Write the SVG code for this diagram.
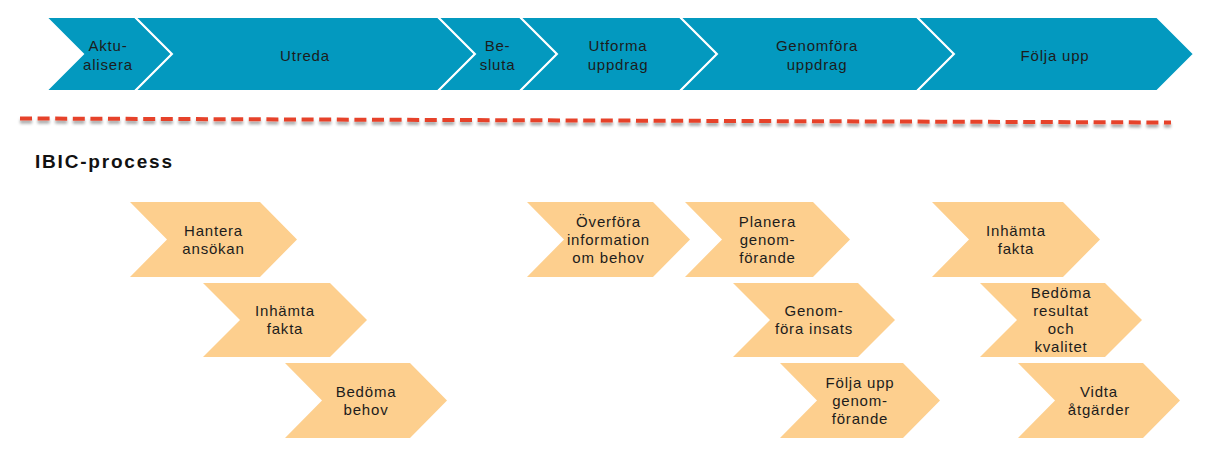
<svg xmlns="http://www.w3.org/2000/svg" width="1213" height="462" viewBox="0 0 1213 462">
<style>
.blue{fill:#0399BF;stroke:#ffffff;stroke-width:2;stroke-linejoin:miter}
.org{fill:#FDCF8E}
.orgedge{fill:none;stroke:#F7E08A;stroke-width:1}
text{font-family:"Liberation Sans",Arial,sans-serif;font-size:15px;fill:#1c1c1c;text-anchor:middle;letter-spacing:0.8px}
.title{font-size:19px;font-weight:bold;text-anchor:start;letter-spacing:1.8px;fill:#111}
</style>
<defs>
<filter id="sh" x="-5%" y="-200%" width="110%" height="500%">
<feGaussianBlur in="SourceAlpha" stdDeviation="1.5"/>
<feOffset dx="0" dy="2.5" result="b"/>
<feComponentTransfer><feFuncA type="linear" slope="0.35"/></feComponentTransfer>
<feMerge><feMergeNode/><feMergeNode in="SourceGraphic"/></feMerge>
</filter>
</defs>
<rect width="1213" height="462" fill="#ffffff"/>

<g id="top-aktualisera"><path class="blue" d="M46,17 L135,17 L172,54 L135,91 L46,91 L83,54 Z"/><text x="108" y="50.5">Aktu-</text><text x="108" y="69.5">alisera</text></g>
<g id="top-utreda"><path class="blue" d="M135,17 L438,17 L475,54 L438,91 L135,91 L172,54 Z"/><text x="305" y="60.5">Utreda</text></g>
<g id="top-besluta"><path class="blue" d="M438,17 L520,17 L557,54 L520,91 L438,91 L475,54 Z"/><text x="497.5" y="50.5">Be-</text><text x="497.5" y="69.5">sluta</text></g>
<g id="top-utforma"><path class="blue" d="M520,17 L680,17 L717,54 L680,91 L520,91 L557,54 Z"/><text x="618" y="50.5">Utforma</text><text x="618" y="69.5">uppdrag</text></g>
<g id="top-genomfora"><path class="blue" d="M680,17 L917,17 L954,54 L917,91 L680,91 L717,54 Z"/><text x="817" y="50.5">Genomföra</text><text x="817" y="69.5">uppdrag</text></g>
<g id="top-folja"><path class="blue" d="M917,17 L1157,17 L1194,54 L1157,91 L917,91 L954,54 Z"/><text x="1055" y="60.5">Följa upp</text></g>

<g id="separator"><line x1="20" y1="118.5" x2="1171" y2="122.5" stroke="#E6432C" stroke-width="4" stroke-dasharray="12 5.6" filter="url(#sh)"/></g>

<g id="title"><text class="title" x="35" y="168">IBIC-process</text></g>

<g id="n-hantera"><path class="org" d="M130,202 L260,202 L297,239.5 L260,277 L130,277 L167,239.5 Z"/><text x="213.5" y="236">Hantera</text><text x="213.5" y="254">ansökan</text></g>
<g id="n-inhamta1"><path class="org" d="M203,283 L330,283 L367,320 L330,357 L203,357 L240,320 Z"/><text x="285" y="316.4">Inhämta</text><text x="285" y="334.4">fakta</text></g>
<g id="n-bedoma-behov"><path class="org" d="M285,363 L410,363 L447,400.5 L410,438 L285,438 L322,400.5 Z"/><text x="366" y="397">Bedöma</text><text x="366" y="415">behov</text></g>

<g id="n-overfora"><path class="org" d="M527,202 L653,202 L690,239.5 L653,277 L527,277 L564,239.5 Z"/><text x="608.5" y="227">Överföra</text><text x="608.5" y="245">information</text><text x="608.5" y="263">om behov</text></g>
<g id="n-planera"><path class="org" d="M685,202 L813,202 L850,239.5 L813,277 L685,277 L722,239.5 Z"/><text x="767.5" y="227">Planera</text><text x="767.5" y="245">genom-</text><text x="767.5" y="263">förande</text></g>
<g id="n-genomfora"><path class="org" d="M733,283 L858,283 L895,320 L858,357 L733,357 L770,320 Z"/><text x="814" y="316.4">Genom-</text><text x="814" y="334.4">föra insats</text></g>
<g id="n-folja"><path class="org" d="M780,363 L903,363 L940,400.5 L903,438 L780,438 L817,400.5 Z"/><text x="860" y="388">Följa upp</text><text x="860" y="406">genom-</text><text x="860" y="424">förande</text></g>

<g id="n-inhamta2"><path class="org" d="M932,202 L1063,202 L1100,239.5 L1063,277 L932,277 L969,239.5 Z"/><text x="1016" y="236">Inhämta</text><text x="1016" y="254">fakta</text></g>
<g id="n-bedoma-resultat"><path class="org" d="M980,283 L1105,283 L1142,320 L1105,357 L980,357 L1017,320 Z"/><text x="1061" y="298.4">Bedöma</text><text x="1061" y="316.4">resultat</text><text x="1061" y="334.4">och</text><text x="1061" y="352.4">kvalitet</text></g>
<g id="n-vidta"><path class="org" d="M1018,363 L1143,363 L1180,400.5 L1143,438 L1018,438 L1055,400.5 Z"/><text x="1099" y="397">Vidta</text><text x="1099" y="415">åtgärder</text></g>

<g id="connectors"></g>
</svg>
